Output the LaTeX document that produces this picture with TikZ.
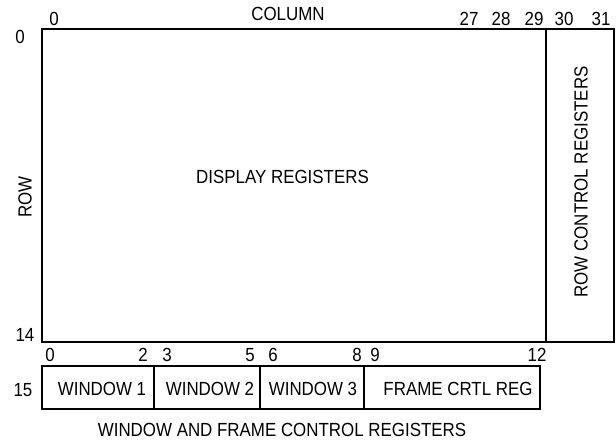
\documentclass[tikz,border=0pt]{standalone}
\usepackage{fontspec}
\setmainfont[FakeStretch=0.89]{Liberation Sans}
\begin{document}
\begin{tikzpicture}[x=1pt,y=-1pt,
  lbl/.style={font=\fontsize{19}{21}\selectfont, inner sep=0pt},
  regline/.style={line width=1.8pt}]
\useasboundingbox (0,0) rectangle (616,442);
% main display area
\draw[regline] (42,29) rectangle (614,342);
\draw[regline] (546,29) -- (546,342);
% bottom boxes
\draw[regline] (42,366) rectangle (540,409);
\foreach \x in {154,260,364} \draw[regline] (\x,366) -- (\x,409);
% texts
\node[lbl] (col) at (288,13.5) {COLUMN};
\node[lbl] (c0) at (54,18.5) {0};
\node[lbl] (c27) at (469,18.5) {27};
\node[lbl] (c28) at (501,18.5) {28};
\node[lbl] (c29) at (534,18.5) {29};
\node[lbl] (c30) at (564,18.5) {30};
\node[lbl] (c31) at (601,18.5) {31};
\node[lbl] (r0) at (20,37) {0};
\node[lbl, rotate=90] (row) at (25,197) {ROW};
\node[lbl] (r14) at (25,335) {14};
\node[lbl] (r15) at (23,390) {15};
\node[lbl] (disp) at (282.5,176.5) {DISPLAY REGISTERS};
\node[lbl, rotate=90] (rowctl) at (581,182) {ROW CONTROL REGISTERS};
\node[lbl] (b0) at (50,355) {0};
\node[lbl] (b2) at (143,355) {2};
\node[lbl] (b3) at (167,355) {3};
\node[lbl] (b5) at (250,355) {5};
\node[lbl] (b6) at (273,355) {6};
\node[lbl] (b8) at (357,355) {8};
\node[lbl] (b9) at (375,355) {9};
\node[lbl] (b12) at (537,355) {12};
\node[lbl] (w1) at (102,389) {WINDOW 1};
\node[lbl] (w2) at (210,389) {WINDOW 2};
\node[lbl] (w3) at (313,389) {WINDOW 3};
\node[lbl] (fr) at (458,389) {FRAME CRTL REG};
\node[lbl] (cap) at (282,430) {WINDOW AND FRAME CONTROL REGISTERS};
\end{tikzpicture}
\end{document}
